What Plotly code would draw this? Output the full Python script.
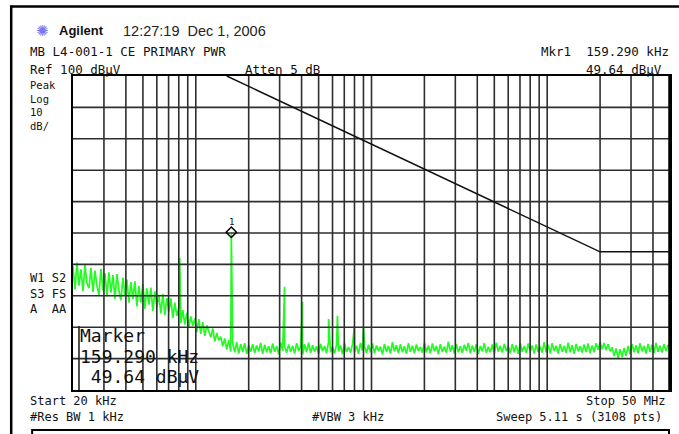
import numpy as np
import plotly.graph_objects as go

# ---------------- data ----------------
f_start, f_stop = 20e3, 50e6          # sweep start / stop (Hz)
n_sweep = 300                         # displayed sweep points

trace_db = [
    39.5, 32.0, 40.6, 33.2, 38.4, 31.5, 39.8, 34.0, 32.4, 38.9,
    31.2, 38.0, 33.1, 30.2, 38.6, 31.8, 37.2, 29.9, 37.5, 31.0,
    36.6, 29.0, 36.9, 31.6, 28.6, 35.8, 30.0, 35.2, 27.8, 34.4,
    28.9, 34.6, 26.6, 33.2, 27.9, 33.8, 25.9, 32.4, 27.2, 32.6,
    25.2, 31.4, 26.5, 30.3, 24.4, 30.6, 23.8, 29.3, 24.9, 29.2,
    22.9, 27.8, 23.6, 26.2, 21.3, 25.4, 20.8, 24.6, 19.9, 23.4,
    20.4, 22.8, 18.4, 22.6, 17.9, 21.6, 17.2, 20.6, 18.6, 16.8,
    19.6, 15.4, 18.2, 15.8, 17.0, 13.9, 16.4, 12.9, 15.9, 12.2,
    14.9, 12.0, 15.2, 11.6, 14.6, 12.1, 14.9, 11.5, 14.3, 12.2,
    14.6, 11.8, 14.2, 12.3, 15.0, 11.5, 14.4, 12.0, 13.9, 11.7,
    14.8, 12.2, 14.0, 11.4, 15.2, 12.4, 13.8, 11.9, 14.5, 12.1,
    14.1, 11.6, 14.9, 12.5, 13.7, 11.3, 14.6, 12.0, 15.1, 11.8,
    14.3, 12.2, 13.9, 11.5, 14.7, 12.4, 14.0, 11.7, 15.3, 12.0,
    13.8, 11.6, 14.5, 12.3, 14.2, 11.4, 14.9, 12.1, 13.7, 11.9,
    14.6, 12.2, 14.1, 11.5, 15.0, 12.5, 13.9, 11.8, 14.4, 12.0,
    14.8, 11.7, 14.2, 12.4, 13.8, 11.3, 14.7, 12.1, 14.0, 11.6,
    15.2, 12.3, 14.3, 11.8, 14.6, 12.0, 13.9, 11.5, 14.9, 12.2,
    14.1, 11.7, 14.5, 12.4, 13.7, 11.9, 15.1, 12.0, 14.2, 11.6,
    14.8, 12.3, 14.0, 11.4, 14.6, 12.1, 13.8, 11.9, 15.4, 12.2,
    14.3, 11.6, 14.7, 12.0, 13.9, 11.8, 14.4, 12.5, 15.0, 11.7,
    14.2, 12.1, 14.6, 11.5, 14.0, 12.3, 14.9, 11.8, 13.8, 12.0,
    14.5, 11.6, 15.1, 12.2, 14.1, 11.9, 14.7, 12.4, 13.9, 11.7,
    14.6, 12.0, 14.3, 11.5, 15.0, 12.2, 14.0, 11.8, 14.8, 12.3,
    14.2, 11.6, 14.5, 12.1, 13.8, 11.9, 15.2, 12.0, 14.4, 11.7,
    14.9, 12.4, 14.1, 11.6, 14.6, 12.2, 14.0, 11.8, 15.1, 12.0,
    14.3, 11.5, 14.7, 12.3, 13.9, 11.9, 14.5, 12.1, 14.8, 11.7,
    14.2, 12.0, 14.9, 12.8, 15.3, 13.0, 15.0, 12.7, 14.6, 12.3,
    13.6, 10.8, 13.2, 10.2, 13.0, 10.5, 13.4, 10.9, 14.0, 11.4,
    14.6, 12.0, 14.2, 11.7, 14.9, 12.3, 14.0, 11.6, 14.7, 12.1,
    14.4, 11.8, 15.0, 12.2, 14.1, 11.9, 14.6, 12.4, 14.3, 12.0,
]

spike_freqs = [81e3, 159.29e3, 320e3, 405e3, 570e3, 640e3, 800e3, 900e3]
spike_db = [42.0, 49.64, 32.9, 28.1, 22.6, 23.6, 20.4, 19.8]

limit_freqs = [150e3, 20e6, 50e6]
limit_db = [100, 44, 44]

grid_freqs = [30e3, 40e3, 50e3, 60e3, 70e3, 80e3, 90e3,
              100e3, 200e3, 300e3, 400e3, 500e3, 600e3, 700e3, 800e3, 900e3,
              1e6, 2e6, 3e6, 4e6, 5e6, 6e6, 7e6, 8e6, 9e6,
              10e6, 20e6, 30e6, 40e6]
grid_db = [10, 20, 30, 40, 50, 60, 70, 80, 90]
ref_level, bottom_level = 100, 0

mkr_freq, mkr_db = 159.29e3, 49.64

# ---------------- build ----------------
W, H = 679, 434
L, R, T, B = 73, 672, 76, 390
MONO = "DejaVu Sans Mono"
SANS = "Liberation Sans"


def px(x):
    return (x - L) / (R - L)


def py(y):
    return (B - y) / (B - T)


sweep_f = np.geomspace(f_start, f_stop, n_sweep)
all_f = np.concatenate([sweep_f, np.array(spike_freqs)])
all_db = np.concatenate([np.array(trace_db), np.array(spike_db)])
order = np.argsort(all_f)
all_f, all_db = all_f[order], all_db[order]

fig = go.Figure()

fig.add_trace(go.Scatter(x=all_f, y=all_db, mode="lines",
                         line=dict(color="#24fa24", width=1.7),
                         hoverinfo="skip"))

gx, gy = [], []
for g in grid_freqs:
    gx += [g, g, None]
    gy += [bottom_level, ref_level, None]
for d in grid_db:
    gx += [f_start, f_stop, None]
    gy += [d, d, None]
fig.add_trace(go.Scatter(x=gx, y=gy, mode="lines",
                         line=dict(color="#2e2e2e", width=1.6),
                         hoverinfo="skip"))

fig.add_trace(go.Scatter(x=limit_freqs, y=limit_db, mode="lines",
                         line=dict(color="#111111", width=1.5),
                         hoverinfo="skip"))

fig.add_trace(go.Scatter(x=[mkr_freq], y=[mkr_db + 0.6], mode="markers",
                         marker=dict(symbol="diamond-open", size=8,
                                     color="black", line=dict(width=1.5)),
                         hoverinfo="skip"))

fig.update_xaxes(type="log", range=[np.log10(f_start), np.log10(f_stop)],
                 showgrid=False, showticklabels=False, ticks="",
                 zeroline=False, showline=True, mirror=True,
                 linecolor="black", linewidth=2)
fig.update_yaxes(range=[bottom_level, ref_level],
                 showgrid=False, showticklabels=False, ticks="",
                 zeroline=False, showline=True, mirror=True,
                 linecolor="black", linewidth=2)


def ann(text, x, y, size=12.5, xanchor="left", family=MONO, color="#111",
        bold=False, yanchor="middle"):
    if bold:
        text = "<b>" + text + "</b>"
    return dict(text=text, xref="paper", yref="paper", x=px(x), y=py(y),
                xanchor=xanchor, yanchor=yanchor, showarrow=False,
                align="left",
                font=dict(family=family, size=size, color=color))


anns = [
    ann("✺", 42.5, 30.5, size=15, xanchor="center", family="DejaVu Sans",
        color="#7a7ae8"),
    ann("Agilent", 57, 30.7, size=13, family=SANS, bold=True),
    ann("12:27:19  Dec 1, 2006", 121, 30.7, size=14.5, family=SANS,
        color="#222"),
    ann("MB L4-001-1 CE PRIMARY PWR", 28, 51.7),
    ann("Ref 100 dBµV", 28, 69.3),
    ann("Atten 5 dB", 244, 69.3),
    ann("Mkr1  159.290 kHz", 673, 51.7, xanchor="right"),
    ann("49.64 dBµV", 666, 69.3, xanchor="right"),
    ann("Peak<br>Log<br>10<br>dB/", 28, 77, size=10.5, yanchor="top"),
    ann("W1 S2<br>S3 FS<br>A  AA", 28, 293.5, size=12),
    ann("Start 20 kHz", 28, 401, size=12),
    ann("#Res BW 1 kHz", 28, 416.5, size=12),
    ann("#VBW 3 kHz", 311, 416.5, size=12),
    ann("Stop 50 MHz", 669, 401, size=12, xanchor="right"),
    ann("Sweep 5.11 s (3108 pts)", 666, 416.5, size=12, xanchor="right"),
    ann("Marker", 78, 335, size=18),
    ann("159.290 kHz", 78, 356.7, size=18),
    ann(" 49.64 dBµV", 78, 376.7, size=18),
    dict(text="1", x=np.log10(mkr_freq), y=mkr_db, xref="x", yref="y",
         yshift=12, showarrow=False, xanchor="center", yanchor="middle",
         font=dict(family=MONO, size=9, color="#111")),
]

shapes = [
    dict(type="line", xref="paper", yref="paper", x0=px(10), x1=px(690),
         y0=py(6.5), y1=py(6.5), line=dict(color="black", width=2.5)),
    dict(type="line", xref="paper", yref="paper", x0=px(11), x1=px(11),
         y0=py(5.5), y1=py(445), line=dict(color="black", width=2.5)),
    dict(type="path", xref="paper", yref="paper",
         path=f"M {px(32)} {py(445)} L {px(32)} {py(430)} L {px(671)} {py(430)} L {px(671)} {py(445)}",
         line=dict(color="black", width=2)),
    dict(type="line", xref="paper", yref="paper", x0=1, x1=1, y0=0, y1=1,
         line=dict(color="black", width=3.5)),
    dict(type="line", xref="paper", yref="paper", x0=px(79), x1=px(79),
         y0=py(326), y1=py(390), line=dict(color="#222", width=1.6)),
]

fig.update_layout(width=W, height=H,
                  margin=dict(l=L, r=W - R, t=T, b=H - B),
                  plot_bgcolor="white", paper_bgcolor="white",
                  showlegend=False, annotations=anns, shapes=shapes)

fig.write_html("out.html")
